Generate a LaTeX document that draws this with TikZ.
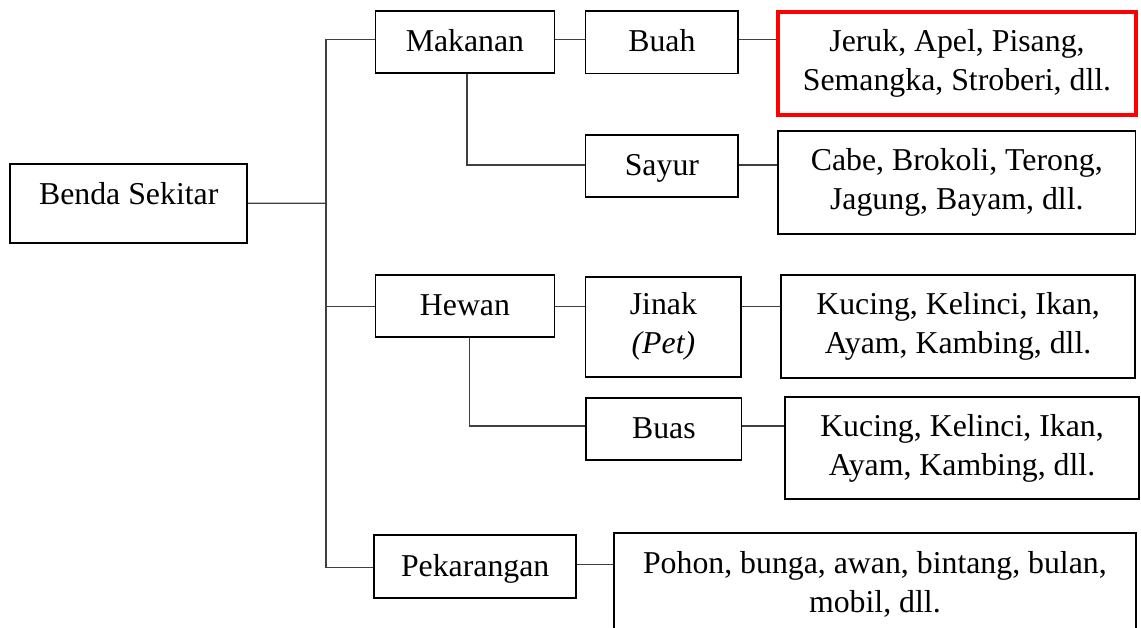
\documentclass[tikz,border=0pt]{standalone}
\usepackage{fontspec}
\setmainfont{Liberation Serif}
\begin{document}
\begin{tikzpicture}[x=1pt,y=-1pt,
  base/.style={draw=black, line width=1.7pt, inner sep=0pt, align=center,
    font={\fontsize{31.8pt}{39pt}\selectfont}},
  onebox/.style={base, text height=19pt, text depth=0pt},
  twobox/.style={base},
  hot/.style={draw=red, line width=3.4pt},
  conn/.style={draw=black!75, line width=1.3pt}]
\useasboundingbox (0,0) rectangle (1141,628);
\clip (0,0) rectangle (1141,628);

% root
\node[onebox, minimum width=236.9pt, minimum height=78.7pt] (benda) at (128.75,203.35)
  {\raisebox{8.8pt}[0pt][0pt]{Benda Sekitar}};

% first level
\node[onebox, minimum width=179.1pt, minimum height=62.3pt] (makanan) at (464.95,41.85) {Makanan};
\node[onebox, minimum width=179.1pt, minimum height=62pt] (hewan) at (464.95,305.7) {Hewan};
\node[onebox, minimum width=201.8pt, minimum height=63pt] (pekarangan) at (475.2,566.5) {Pekarangan};

% second level
\node[onebox, minimum width=152.6pt, minimum height=62.8pt] (buah) at (661.9,42.1) {Buah};
\node[onebox, minimum width=152.6pt, minimum height=62pt] (sayur) at (661.9,166) {Sayur};
\node[twobox, minimum width=155.6pt, minimum height=100pt] (jinak) at (663.4,326.7) {Jinak\\\textit{(Pet)}};
\node[onebox, minimum width=155.2pt, minimum height=62.3pt] (buas) at (663.9,429.15) {Buas};

% examples
\node[twobox, hot, minimum width=358.2pt, minimum height=103pt] (buahlist) at (957,63.5)
  {Jeruk, Apel, Pisang,\\Semangka, Stroberi, dll.};
\node[twobox, minimum width=357.2pt, minimum height=102.4pt] (sayurlist) at (956.8,182.5)
  {Cabe, Brokoli, Terong,\\Jagung, Bayam, dll.};
\node[twobox, minimum width=353.8pt, minimum height=103pt] (jinaklist) at (958.1,326.8)
  {Kucing, Kelinci, Ikan,\\Ayam, Kambing, dll.};
\node[twobox, minimum width=354.2pt, minimum height=102.6pt] (buaslist) at (962,448)
  {Kucing, Kelinci, Ikan,\\Ayam, Kambing, dll.};
\node[twobox, minimum width=522.4pt, minimum height=102.7pt] (pekaranganlist) at (874.9,584.65)
  {Pohon, bunga, awan, bintang, bulan,\\mobil, dll.};

% row heights of the connectors
\coordinate (spine) at (326,203.3);
\coordinate (rowA) at (0,39.3);
\coordinate (rowB) at (0,306.3);
\coordinate (rowC) at (0,567.3);
\coordinate (rowD) at (0,426);
\coordinate (rowE) at (0,564.7);
\coordinate (rowF) at (0,165);

% connectors
\draw[conn] (benda.east) -- (spine);
\draw[conn] (makanan.west |- rowA) -| (spine) |- (pekarangan.west |- rowC);
\draw[conn] (spine |- rowB) -- (hewan.west |- rowB);
\draw[conn] (makanan.east |- rowA) -- (buah.west |- rowA);
\draw[conn] (buah.east |- rowA) -- (buahlist.west |- rowA);
\draw[conn] ([xshift=2pt]makanan.south) |- (sayur.west |- rowF);
\draw[conn] (sayur.east |- rowF) -- (sayurlist.west |- rowF);
\draw[conn] (hewan.east |- rowB) -- (jinak.west |- rowB);
\draw[conn] (jinak.east |- rowB) -- (jinaklist.west |- rowB);
\draw[conn] ([xshift=4.6pt]hewan.south) |- (buas.west |- rowD);
\draw[conn] (buas.east |- rowD) -- (buaslist.west |- rowD);
\draw[conn] (pekarangan.east |- rowE) -- (pekaranganlist.west |- rowE);
\end{tikzpicture}
\end{document}
